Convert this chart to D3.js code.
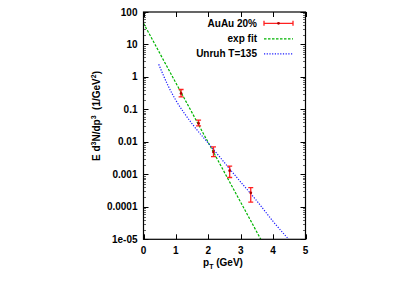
<!DOCTYPE html>
<html>
<head>
<meta charset="UTF-8" />
<script src="https://cdn.jsdelivr.net/npm/d3@7"></script>
<style>
	body { margin: 0; background: #fff; }
	text { font-family: "Liberation Sans", Arial, sans-serif; font-weight: bold; font-size: 10px; fill: #000; }
</style>
</head>
<body>
<div id="chart"></div>
<script>
// AuAu 20% data points (pT in GeV, yield)
var ptData   = [1.16, 1.70, 2.16, 2.66, 3.31];
var yData    = [0.31, 0.037, 0.0049, 0.0013, 0.00027];
var yErrLow  = [0.244, 0.031, 0.0035, 0.00080, 0.00014];
var yErrHigh = [0.41, 0.047, 0.0070, 0.0018, 0.00039];

// exp fit (straight line on log axis)
var expPt = [0, 3.62];
var expY  = [45, 1e-5];

// Unruh T=135 curve
var unruhPt = [0.47, 0.75, 1.0, 1.25, 1.5, 2.0, 2.5, 3.0, 3.5, 4.0, 4.5];
var unruhY  = [2.45, 0.56, 0.19, 0.079, 0.036, 0.0091, 0.00229, 0.00058, 0.000151, 0.0000355, 0.0000095];

var xTicks = [0, 1, 2, 3, 4, 5];
var yTicks = [1e-5, 1e-4, 1e-3, 1e-2, 0.1, 1, 10, 100];
var yTickLabels = ["1e-05", "0.0001", "0.001", "0.01", "0.1", "1", "10", "100"];

var W = 403, H = 283;
var L = 143.5, R = 305.5, T = 12, B = 239.3;

var svg = d3.select("#chart").append("svg").attr("width", W).attr("height", H);

var x = d3.scaleLinear().domain([0, 5]).range([L, R]);
var y = d3.scaleLog().domain([1e-5, 100]).range([B, T]);

svg.append("clipPath").attr("id", "clip")
	.append("rect").attr("x", L).attr("y", T).attr("width", R - L).attr("height", B - T);

// minor ticks on y (2..9 of each decade)
var minor = [];
yTicks.slice(0, -1).forEach(function(d) {
	for (var k = 2; k <= 9; k++) minor.push(d * k);
});

var ax = svg.append("g").attr("stroke", "#000").attr("stroke-width", 1);
ax.selectAll(".ymin").data(minor).enter().append("path")
	.attr("d", function(d) {
		var yy = Math.round(y(d)) + 0.5;
		return "M" + L + " " + yy + "h2.5M" + R + " " + yy + "h-2.5";
	})
	.attr("stroke-opacity", 0.6);
ax.selectAll(".ymaj").data(yTicks).enter().append("path")
	.attr("d", function(d) {
		var yy = Math.round(y(d)) + 0.5;
		return "M" + L + " " + yy + "h5M" + R + " " + yy + "h-5";
	});
ax.selectAll(".xmaj").data(xTicks).enter().append("path")
	.attr("d", function(d) {
		var xx = Math.round(x(d)) + 0.5;
		return "M" + xx + " " + B + "v-5M" + xx + " " + T + "v5";
	});

svg.selectAll(".ylab").data(yTicks).enter().append("text")
	.attr("x", L - 6).attr("y", function(d) { return y(d); })
	.attr("dy", "0.35em").attr("text-anchor", "end")
	.text(function(d, i) { return yTickLabels[i]; });

svg.selectAll(".xlab").data(xTicks).enter().append("text")
	.attr("x", function(d) { return x(d); }).attr("y", 253.5)
	.attr("text-anchor", "middle")
	.text(function(d) { return d; });

// axis titles
var xt = svg.append("text").attr("x", 223).attr("y", 266).attr("text-anchor", "middle");
xt.append("tspan").text("p");
xt.append("tspan").attr("font-size", "7px").attr("dy", 3).text("T");
xt.append("tspan").attr("dy", -3).text(" (GeV)");

var yt = svg.append("text").attr("transform", "translate(100,116) rotate(-90)").attr("text-anchor", "middle");
yt.append("tspan").text("E d");
yt.append("tspan").attr("font-size", "7px").attr("dy", -4).text("3");
yt.append("tspan").attr("dy", 4).text("N/dp");
yt.append("tspan").attr("font-size", "7px").attr("dy", -4).text("3");
yt.append("tspan").attr("dy", 4).text("  (1/GeV");
yt.append("tspan").attr("font-size", "7px").attr("dy", -4).text("2");
yt.append("tspan").attr("dy", 4).text(")");
yt.attr("xml:space", "preserve");

// curves
var plot = svg.append("g").attr("clip-path", "url(#clip)");
var line = d3.line().x(function(d) { return x(d[0]); }).y(function(d) { return y(d[1]); });

plot.append("path")
	.attr("d", line(d3.zip(expPt, expY)))
	.attr("fill", "none").attr("stroke", "#00b400").attr("stroke-width", 1.2)
	.attr("stroke-dasharray", "2.5,1.5");

plot.append("path")
	.attr("d", line.curve(d3.curveMonotoneX)(d3.zip(unruhPt, unruhY)))
	.attr("fill", "none").attr("stroke", "#1a1aff").attr("stroke-width", 1.2)
	.attr("stroke-dasharray", "1.2,1.5");

// error bars
var pts = plot.selectAll(".pt").data(d3.range(ptData.length)).enter().append("g");
pts.append("path")
	.attr("d", function(i) {
		var xx = x(ptData[i]), y1 = y(yErrHigh[i]), y2 = y(yErrLow[i]);
		return "M" + xx + " " + y1 + "V" + y2 +
			"M" + (xx - 2.5) + " " + y1 + "h5M" + (xx - 2.5) + " " + y2 + "h5";
	})
	.attr("stroke", "#ff2020").attr("stroke-width", 1.3).attr("fill", "none");
pts.append("circle")
	.attr("cx", function(i) { return x(ptData[i]); })
	.attr("cy", function(i) { return y(yData[i]); })
	.attr("r", 1.4).attr("fill", "#b00000");

// frame
svg.append("rect").attr("x", L).attr("y", T).attr("width", R - L).attr("height", B - T)
	.attr("fill", "none").attr("stroke", "#000").attr("stroke-width", 1.2);

// legend
var legend = [
	{ name: "AuAu 20%", kind: "err" },
	{ name: "exp fit", kind: "exp" },
	{ name: "Unruh T=135", kind: "unruh" }
];
var lg = svg.selectAll(".lg").data(legend).enter().append("g")
	.attr("transform", function(d, i) { return "translate(0," + (23.3 + i * 15) + ")"; });
lg.append("text").attr("x", 257).attr("dy", "0.35em").attr("text-anchor", "end")
	.text(function(d) { return d.name; });
lg.each(function(d) {
	var g = d3.select(this);
	if (d.kind === "err") {
		g.append("path").attr("d", "M264 0H293M264 -2.5V2.5M293 -2.5V2.5")
			.attr("stroke", "#ff2020").attr("stroke-width", 1.3);
		g.append("circle").attr("cx", 278.5).attr("cy", 0).attr("r", 1.4).attr("fill", "#b00000");
	} else if (d.kind === "exp") {
		g.append("path").attr("d", "M264 0.5H293").attr("stroke", "#00b400")
			.attr("stroke-width", 1.2).attr("stroke-dasharray", "2.5,1.5");
	} else {
		g.append("path").attr("d", "M264 0.5H293").attr("stroke", "#1a1aff")
			.attr("stroke-width", 1.2).attr("stroke-dasharray", "1.2,1.5");
	}
});
</script>
</body>
</html>
